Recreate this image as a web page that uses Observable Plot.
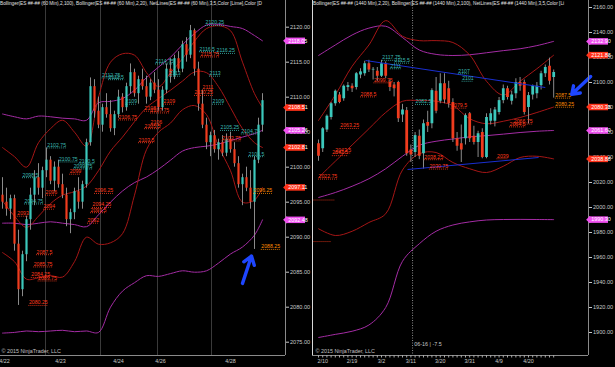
<!DOCTYPE html>
<html><head><meta charset="utf-8">
<script src="https://cdn.jsdelivr.net/npm/d3@7"></script>
<script src="https://cdn.jsdelivr.net/npm/@observablehq/plot@0.6"></script>
<style>
html,body{margin:0;padding:0;background:#000;}
#wrap{position:relative;width:615px;height:367px;overflow:hidden;background:#000;font-family:"Liberation Sans",Arial,sans-serif;}
.hdr{position:absolute;top:0;height:8px;font-size:4.75px;color:#e0e0e0;white-space:nowrap;overflow:hidden;line-height:8px;z-index:2;}
.panel{position:absolute;top:0;}
</style></head><body>
<div id="wrap">
  <div id="pl" class="panel" style="left:0"></div>
  <div id="pr" class="panel" style="left:308px"></div>
  <div class="hdr" style="left:0;width:286px">Bollinger(ES ##-## (60 Min),2,100), Bollinger(ES ##-## (60 Min),2,20), NetLines(ES ##-## (60 Min),3,5,Color [Lime],Color [D</div>
  <div class="hdr" style="left:313px;width:276px">Bollinger(ES ##-## (1440 Min),2,20), Bollinger(ES ##-## (1440 Min),2,100), NetLines(ES ##-## (1440 Min),3,5,Color [Li</div>
</div>
<script>
// ---------- LEFT PANEL (60 min) ----------
const L_BARS = [ // [open, high, low, close]
[2096,2098.5,2094,2095],[2095,2097,2093,2094],[2094,2096,2092.5,2095.5],[2095.5,2096,2088,2089],
[2089,2091,2080.25,2082.5],[2082.5,2088,2081.5,2087.5],[2087.5,2093,2086.5,2092.5],[2092.5,2097,2091,2096],
[2096,2099.5,2094.5,2098.5],[2098.5,2100.5,2096,2097],[2097,2100,2095.5,2099.5],[2099.5,2102.75,2098.5,2101],
[2101,2101.5,2097.5,2098],[2098,2100.75,2096.5,2100],[2100,2101,2097,2097.5],[2097.5,2099,2095.5,2096],
[2096,2097,2091.5,2092.5],[2092.5,2094,2090.5,2093.5],[2093.5,2097,2092.5,2096.5],[2096.5,2098.5,2094,2095],
[2095,2098,2094,2097.5],[2097.5,2104,2097,2103.5],[2103.5,2112.75,2103,2111.5],[2111.5,2112.5,2107,2108],
[2108,2110,2105.5,2106],[2106,2109,2105,2108.5],[2108.5,2110.5,2107,2107.5],[2107.5,2109.5,2105,2105.5],
[2105.5,2108,2104.5,2107.5],[2107.5,2111,2107,2110],[2110,2110.5,2107.75,2108.5],[2108.5,2112,2108,2111.5],
[2111.5,2114.75,2110.5,2113.5],[2113.5,2114,2110,2110.5],[2110.5,2113,2109,2112.5],[2112.5,2114,2111,2111.5],
[2111.5,2113,2109,2110],[2110,2112.5,2109.5,2112],[2112,2113.5,2110.5,2111],[2111,2112.5,2108,2108.5],
[2108.5,2111.5,2108,2111],[2111,2114.75,2110.5,2114],[2114,2115.5,2112,2113],[2113,2116,2112.5,2115.5],
[2115.5,2116.5,2113.5,2114],[2114,2118,2113.5,2117.5],[2117.5,2118.5,2115,2116],[2116,2120.25,2115.5,2119.5],
[2119.5,2119.75,2113,2114],[2114,2115,2108,2109],[2109,2111,2105.5,2106],[2106,2107,2102.5,2103.5],
[2103.5,2105,2101.5,2104.5],[2104.5,2105.25,2102,2102.5],[2102.5,2104,2101,2103.5],[2103.5,2104.5,2101.5,2102],
[2102,2104.75,2101.5,2104],[2104,2105,2102,2102.5],[2102.5,2103.5,2100,2100.5],[2100.5,2101.5,2097,2097.5],
[2097.5,2099,2094.5,2098.5],[2098.5,2100,2096.5,2097],[2097,2099.5,2094,2095],[2095,2101.5,2088.25,2101],
[2101,2107,2100.5,2106],[2106,2110.5,2105,2109.5]
];
const L_BAND_I = [0,3,6,9,12,15,18,21,24,27,30,33,36,39,42,45,48,51,54,57,60,63,65];
const L_BB100_U = [2107.6,2107.2,2106.9,2107.3,2107.2,2107,2106.9,2106.7,2109.2,2109.4,2109.8,2111,2112.8,2114.3,2115.7,2117.5,2119.1,2120.3,2120.4,2120.1,2119.8,2118.8,2118.05];
const L_BB100_M = [2092,2092,2091.8,2092,2092.2,2092,2091.8,2091.5,2093.2,2095,2096.6,2097.8,2098.6,2099.7,2101,2102.3,2102.8,2103,2103.3,2103.8,2104.3,2104.8,2105.26];
const L_BB100_L = [2076.3,2076.4,2076.6,2076.5,2076.6,2076.7,2076.5,2076.6,2076.4,2080,2082.3,2083.5,2084.5,2084.4,2084.8,2085.2,2085,2085.2,2086.3,2087.6,2088.6,2090.3,2092.48];
const L_BB20_U = [2102.8,2101.5,2100,2103.5,2105.5,2106.7,2105,2103,2110,2115,2116.2,2116,2113.5,2111.5,2113.5,2115.5,2118,2119.8,2120.2,2119.5,2115,2110.5,2108.51];
const L_BB20_M = [2095.2,2093,2091.4,2093,2094.8,2096,2096.5,2097.3,2099.5,2102.3,2104.3,2106.5,2108.5,2109.8,2111,2112.3,2113.6,2113.5,2111.5,2108.5,2105.5,2103.5,2102.81];
const L_BB20_L = [2087.8,2086.5,2084,2084.2,2084.5,2084.3,2086.5,2090,2089,2089.2,2090.5,2096,2102.5,2105,2106.3,2108.2,2108.8,2107.5,2103,2099.5,2095,2095.3,2097.11];
const L_LAB_V = [2120.25,2116.5,2116.25,2114.75,2113,2113,2109,2105.25,2104.75,2101.5,2112.75,2112.5,2109,2102.75,2100.75,2100.5,2099.75,2098.5,2094.75,
  2115.75,2111,2110.25,2109,2107.75,2106,2103.75,2106.75,2108,2105.5,2103.5,2093,2096,2094,2099,2096.25,2094.25,2093.5,2092,2087.5,2085.75,2084.25,2083.75,2080.25,
  2096.25,2088.25];
const L_LAB_I = [50.75,49.25,53.5,38.25,41.75,51.75,52.5,54.5,59.7,61.5,24.9,26.5,30.75,11.2,14.1,19.1,17.8,5,5.5,
  49.5,50,48,40.25,37,37,54.9,29,35.5,35.5,34,3.7,10.75,10.25,16.8,23,22.5,22,21.25,8.5,7.8,7.2,8.9,6.6,
  62.75,64.7];
const L_LAB_C = ["c","c","c","c","c","c","c","c","c","c","c","c","c","c","c","c","c","c","c",
  "r","r","r","r","r","r","r","r","r","r","r","r","r","r","r","r","r","r","r","r","r","r","r","r",
  "o","o"];
const L_TAG_V = [2118.05,2108.51,2105.26,2102.81,2097.11,2092.48];
const L_TAG_C = ["m","r","m","r","r","m"];
const L_TICKS = [2075,2080,2085,2090,2095,2100,2105,2110,2115,2120];
const L_SESSIONS = [10.75,24.5,38.75,52.25];
const L_DATE_T = ["4/22","4/23","4/24","4/26","4/28"];
const L_DATE_I = [0.5,14.5,29,39.5,57];
const L_ARROW = [{i1:60,v1:2083.4,i2:62.25,v2:2087.3}];

// ---------- RIGHT PANEL (1440 min) ----------
const R_BARS = [
[2051,2054,2037,2041],[2047,2064,2044,2063],[2062,2074,2060,2073],[2072,2084,2070,2083],
[2083,2094,2081,2093],[2090,2092,2083,2084],[2087,2098,2085,2097],[2096,2100,2093,2097.5],
[2097,2099,2092,2095],[2096,2108,2094,2107],[2106,2111,2103,2108.5],[2107,2117,2105,2115],
[2115,2117.75,2108,2110],[2110,2112,2102,2110.5],[2109,2112,2101,2105],[2105,2117.75,2104,2115],
[2115,2116.5,2103,2105],[2100,2102,2092.75,2096],[2098,2100,2088.5,2095],[2100,2101,2068,2071],
[2074,2082.5,2068,2078],[2077.5,2080,2041,2043],[2046,2050,2036,2042],[2044,2060,2040,2057.5],
[2057,2062,2038.25,2041],[2043,2070,2030.75,2067],[2068,2077,2060,2065],[2067,2095,2063,2093.5],
[2093,2104,2075,2077],[2085,2107,2083,2099],[2099,2107,2083,2086],[2095,2101,2079.5,2083],
[2084,2087,2052,2055],[2055,2060,2045,2049],[2051,2066,2036,2046],[2055,2075,2050,2073.5],
[2075,2076,2052,2055],[2057,2065,2050,2052],[2052,2061,2040,2059],[2060,2063,2039,2040],
[2040,2075,2039,2072],[2069,2079,2066,2075],[2069,2080,2064.5,2078],[2076,2088,2074,2085.5],
[2085.5,2098,2083,2095],[2095,2097,2086,2088],[2085,2093,2082,2090],[2091,2103,2087,2100],
[2100,2104,2093,2097],[2100,2102,2074,2076],[2080,2092,2066.75,2089.5],[2090,2098,2086,2097],
[2091,2100,2087,2097],[2097.5,2109,2094,2107],[2107,2114,2104,2112],[2113,2119.5,2098,2101],
[2104,2110,2087.5,2108]
];
const R_BAND_I = [0,4,8,12,16,20,24,28,32,36,40,44,48,52,56];
const R_BB100_U = [2121.6,2130,2138,2143.5,2145,2136,2126,2122.5,2121.6,2122.2,2123.8,2125.5,2127,2129.5,2132.9];
const R_BB100_M = [2008,2012,2017,2023,2031,2041,2049.8,2053,2054.8,2056.5,2057.5,2058.7,2060,2061,2061.6];
const R_BB100_L = [1896,1898.5,1901,1906,1920,1957,1971,1981,1986,1988.5,1990,1990.4,1990.5,1990.4,1990.3];
const R_BB20_U = [2069.6,2090,2113,2130,2149.5,2137,2133.5,2133.5,2132,2122,2101,2090,2101,2111,2121.88];
const R_BB20_M = [2024,2037,2050,2063,2076,2085,2085.6,2085,2081.5,2071,2067,2069,2072,2076,2080.38];
const R_BB20_L = [1983,1977.6,1981,1988,1995,2030,2043,2044,2036,2031,2028,2033,2040,2041,2038.88];
const R_TREND = [{i1:11.2,v1:2117.6,i2:54,v2:2096},{i1:21.2,v1:2030.4,i2:52.4,v2:2040}];
const R_LAB_V = [2117.75,2115.5,2111,2107,2101,2082.5,
  2099.75,2088.5,2063.25,2043.5,2041.5,2022.75,2079.5,2038.25,2030.75,2039,2066.75,2064.5,
  2087.5,2080.25];
const R_LAB_I = [15.2,18.1,17.1,33.3,34.2,23.1,
  13.2,10,5.2,4,3.3,0,31.6,25.2,26.4,42.5,46.5,45.5,
  56.4,56.4];
const R_LAB_C = ["c","c","c","c","c","c","r","r","r","r","r","r","r","r","r","r","r","r","o","o"];
const R_SEG_V = [2006,1972.75];
const R_SEG_I1 = [-1.3,-1.3];
const R_SEG_I2 = [4,3.1];
const R_TAG_V = [2132.9,2121.88,2080.38,2061.6,2038.88,1990.3];
const R_TAG_C = ["m","r","r","m","r","m"];
const R_TICKS = [1900,1920,1940,1960,1980,2000,2020,2040,2060,2080,2100,2120,2140,2160];
const R_DATE_T = ["2/10","2/19","3/2","3/11","3/20","3/31","4/9","4/20"];
const R_DATE_I = [1,8,15,22,29,36,43,50];
const R_CROSS_I = 22.4;
const R_CROSS_TEXT = "06-16 | -7.5";
const R_ARROW = [{i1:64.8,v1:2104.8,i2:60.3,v2:2090.6}];

// ---------- styles ----------
const C_UP = "#3cc8bc", C_DN = "#f03c1e", C_WICK = "#9a9a9a";
const C_PURPLE = "#a42ca4", C_DRED = "#a51616";
const LAB_COL = {c:"#3ab8b0", r:"#ff3a1c", o:"#ff8c00"};
const TAG_COL = {m:"#f050f0", r:"#ff3218"};
const FS = 5.2, CHW = 2.7;

const bars = a => a.map((d,i)=>({i,o:d[0],h:d[1],l:d[2],c:d[3]}));
const line = (idx,vals) => idx.map((x,k)=>({i:x,v:vals[k]}));
const labs = (V,I,C) => V.map((v,k)=>({v,i:I[k],c:C[k],t:String(v)}));

function panel(cfg){
  const {W, H, mL, mR, xDom, yDom, barsA, bandI, bands, labels, tags, ticks, tickFmt, sessions, dates, arrows, extra, bodyW, pxU, leftBorder} = cfg;
  const data = bars(barsA);
  const up = data.filter(d=>d.c>=d.o), dn = data.filter(d=>d.c<d.o);
  const L = labs(labels.V, labels.I, labels.C);
  const T = tags.V.map((v,k)=>({v,c:tags.C[k]}));
  const xMax = xDom[1], yMin = yDom[0];
  const marks = [];
  marks.push(Plot.ruleX(sessions, {stroke:"#3a3a3a", strokeWidth:1}));
  if (extra) extra.pre.forEach(m=>marks.push(m));
  const lines = [[bands[0],C_PURPLE],[bands[1],C_PURPLE],[bands[2],C_PURPLE],[bands[3],C_DRED],[bands[4],C_DRED],[bands[5],C_DRED]];
  lines.forEach(([vals,col])=>marks.push(Plot.line(line(bandI,vals),{x:"i",y:"v",stroke:col,strokeWidth:1,curve:"catmull-rom"})));
  marks.push(Plot.ruleX(data,{x:"i",y1:"l",y2:"h",stroke:C_WICK,strokeWidth:0.9}));
  marks.push(Plot.ruleX(up,{x:"i",y1:"o",y2:"c",stroke:C_UP,strokeWidth:bodyW}));
  marks.push(Plot.ruleX(dn,{x:"i",y1:"o",y2:"c",stroke:C_DN,strokeWidth:bodyW}));
  if (extra) extra.mid.forEach(m=>marks.push(m));
  ["c","r","o"].forEach(k=>{
    const sub = L.filter(d=>d.c===k);
    marks.push(Plot.ruleY(sub,{y:"v",x1:"i",x2:d=>d.i+d.t.length*CHW/pxU,stroke:LAB_COL[k],strokeWidth:0.8,strokeDasharray:"1,1"}));
    marks.push(Plot.text(sub,{x:"i",y:"v",text:"t",textAnchor:"start",dy:-2.8,fill:LAB_COL[k],fontSize:FS}));
  });
  marks.push(Plot.arrow(arrows,{x1:"i1",y1:"v1",x2:"i2",y2:"v2",stroke:"#1e46ff",strokeWidth:3.4,headLength:10,headAngle:70}));
  // frame lines
  marks.push(Plot.ruleX([xMax],{stroke:"#8a8a8a",strokeWidth:1}));
  marks.push(Plot.ruleY([yMin],{stroke:"#8a8a8a",strokeWidth:1}));
  if (leftBorder) marks.push(Plot.ruleX([xDom[0]],{stroke:"#d8d8d8",strokeWidth:1}));
  marks.push(Plot.axisY(ticks,{anchor:"right",tickFormat:tickFmt,tickSize:3,tickPadding:1.5,fontSize:5.6,color:"#c8c8c8"}));
  // value tags
  const tx1 = xMax + 1.2/pxU, tx2 = xMax + 20/pxU;
  ["m","r"].forEach(k=>{
    const sub = T.filter(d=>d.c===k);
    marks.push(Plot.ruleY(sub,{y:"v",x1:tx1,x2:tx2,stroke:TAG_COL[k],strokeWidth:6.5}));
    marks.push(Plot.dot(sub,{x:tx1,y:"v",r:3.2,symbol:"diamond2",fill:TAG_COL[k],stroke:"none"}));
    marks.push(Plot.text(sub,{x:tx1+1.5/pxU,y:"v",text:d=>d.v.toFixed(2),textAnchor:"start",fill:"#fff",fontSize:5.4}));
  });
  // dates
  marks.push(Plot.text(dates.I.map((x,k)=>({i:x,t:dates.T[k]})),{x:"i",text:"t",frameAnchor:"bottom",dy:7,fill:"#c8c8c8",fontSize:5.4}));
  marks.push(Plot.text(["© 2015 NinjaTrader, LLC"],{frameAnchor:"bottom-left",dx:leftBorder?3:1,dy:-3,textAnchor:"start",fill:"#c0c0c0",fontSize:5.4}));
  if (extra) extra.post.forEach(m=>marks.push(m));
  return Plot.plot({
    width:W, height:H, marginLeft:mL, marginRight:mR, marginTop:0, marginBottom:12,
    style:{background:"transparent", color:"#ccc", fontFamily:"Liberation Sans, Arial, sans-serif", overflow:"visible"},
    x:{domain:xDom, axis:null}, y:{domain:yDom, axis:null},
    marks
  });
}

const left = panel({
  W:308, H:367, mL:0, mR:23, xDom:[-0.5,70.75], yDom:[2073.1,2123.81], pxU:4, bodyW:2.2,
  barsA:L_BARS, bandI:L_BAND_I, bands:[L_BB100_U,L_BB100_M,L_BB100_L,L_BB20_U,L_BB20_M,L_BB20_L],
  labels:{V:L_LAB_V,I:L_LAB_I,C:L_LAB_C}, tags:{V:L_TAG_V,C:L_TAG_C}, ticks:L_TICKS, tickFmt:d=>d.toFixed(2),
  sessions:L_SESSIONS, dates:{T:L_DATE_T,I:L_DATE_I}, arrows:L_ARROW, leftBorder:false
});
document.getElementById("pl").appendChild(left);

const R_SEGS = R_SEG_V.map((v,k)=>({v,i1:R_SEG_I1[k],i2:R_SEG_I2[k]}));
const right = panel({
  W:307, H:367, mL:4, mR:27, xDom:[-1.43,64.29], yDom:[1881.6,2165.6], pxU:4.2, bodyW:2.8,
  barsA:R_BARS, bandI:R_BAND_I, bands:[R_BB100_U,R_BB100_M,R_BB100_L,R_BB20_U,R_BB20_M,R_BB20_L],
  labels:{V:R_LAB_V,I:R_LAB_I,C:R_LAB_C}, tags:{V:R_TAG_V,C:R_TAG_C}, ticks:R_TICKS, tickFmt:d=>d.toFixed(2),
  sessions:[], dates:{T:R_DATE_T,I:R_DATE_I}, arrows:R_ARROW, leftBorder:true,
  extra:{
    pre:[Plot.ruleX([R_CROSS_I],{stroke:"#8a8a8a",strokeWidth:1,strokeDasharray:"1,1.5"})],
    mid:[Plot.link(R_TREND,{x1:"i1",y1:"v1",x2:"i2",y2:"v2",stroke:"#1a2fd0",strokeWidth:1}),
         Plot.ruleY(R_SEGS,{y:"v",x1:"i1",x2:"i2",stroke:"#ff3a1c",strokeWidth:0.8,strokeDasharray:"1,1"})],
    post:[Plot.axisX(R_BARS.map((d,i)=>i),{anchor:"bottom",tickSize:2.5,tickFormat:()=>"",color:"#aaa"}),
          Plot.text([R_CROSS_TEXT],{x:R_CROSS_I+0.4,frameAnchor:"bottom",dy:-10,textAnchor:"start",fill:"#c8c8c8",fontSize:5.4})]
  }
});
document.getElementById("pr").appendChild(right);
</script>
</body></html>
